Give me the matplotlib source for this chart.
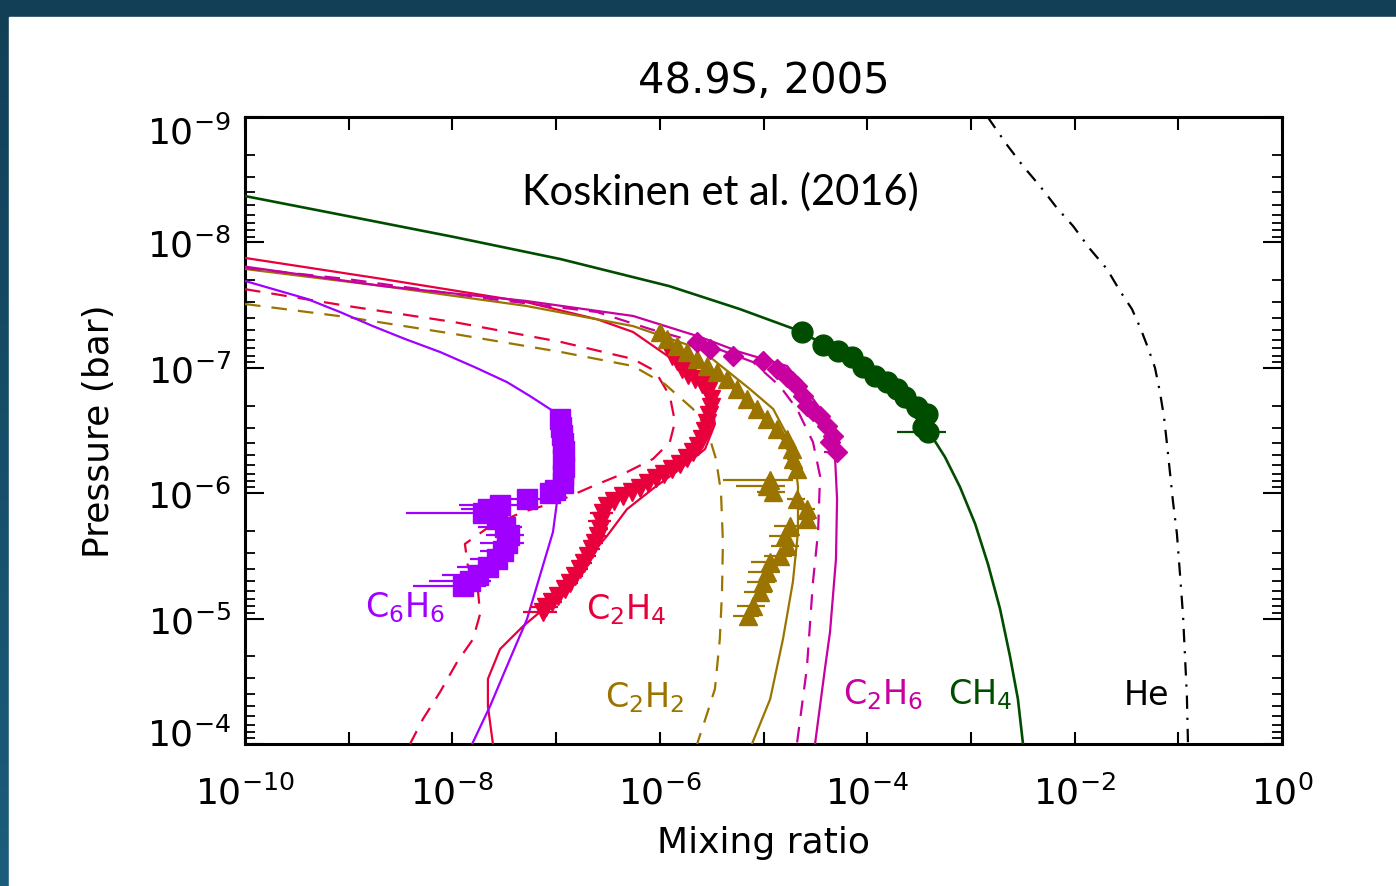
import numpy as np
import matplotlib
matplotlib.use("Agg")
import matplotlib.pyplot as plt
import matplotlib.transforms as mtransforms
from matplotlib.ticker import FixedLocator, FuncFormatter, NullFormatter
from matplotlib.patches import Rectangle

# ---------------- data ----------------
# models (mixing ratio, pressure in bar)
ch4_x = [1e-10, 9.6e-10, 1.04e-8, 1.11e-7, 1.23e-6, 5.9e-6, 1.97e-5, 6.8e-5, 1.66e-4, 4.0e-4,
         5.62e-4, 7.85e-4, 1.10e-3, 1.46e-3, 1.91e-3, 2.38e-3, 2.84e-3, 3.18e-3]
ch4_p = [4.27e-9, 6.15e-9, 9.06e-9, 1.36e-8, 2.23e-8, 3.4e-8, 4.9e-8, 8.2e-8, 1.48e-7, 3.3e-7,
         5.14e-7, 8.93e-7, 1.76e-6, 3.67e-6, 8.37e-6, 1.99e-5, 4.38e-5, 1e-4]

he_x = [1.45e-3, 2.23e-3, 3.18e-3, 4.63e-3, 6.76e-3, 9.66e-3, 1.41e-2, 2.05e-2, 2.74e-2, 3.57e-2,
        4.3e-2, 5.11e-2, 5.96e-2, 6.65e-2, 7.28e-2, 7.8e-2, 8.32e-2, 8.89e-2, 9.70e-2, 0.104,
        0.111, 0.116, 0.121, 0.124]
he_p = [1e-9, 1.67e-9, 2.46e-9, 3.55e-9, 5.32e-9, 7.40e-9, 1.13e-8, 1.63e-8, 2.44e-8, 3.40e-8,
        4.8e-8, 6.95e-8, 1.0e-7, 1.56e-7, 2.47e-7, 4.13e-7, 6.90e-7, 1.17e-6, 2.11e-6, 4.5e-6,
        9.35e-6, 1.99e-5, 4.14e-5, 1e-4]

c2h4_mod_x = [1e-10, 2.14e-9, 5.13e-8, 2.48e-7, 5.52e-7, 1.23e-6, 2.18e-6, 3.18e-6, 3.40e-6, 2.73e-6,
              1.57e-6, 9.0e-7, 4.83e-7, 3.10e-7, 1.46e-7, 7.0e-8, 4.8e-8, 2.88e-8, 2.20e-8, 2.20e-8, 2.46e-8]
c2h4_mod_p = [1.33e-8, 1.96e-8, 2.99e-8, 4.1e-8, 5.18e-8, 8.2e-8, 1.23e-7, 1.95e-7, 2.81e-7, 4.45e-7,
              6.41e-7, 8.93e-7, 1.34e-6, 2.19e-6, 4.57e-6, 8.85e-6, 1.15e-5, 1.75e-5, 3.03e-5, 4.98e-5, 1e-4]

c2h4_dash_x = [1e-10, 9.6e-10, 1.04e-8, 1.11e-7, 5.52e-7, 9.0e-7, 1.25e-6, 1.40e-6, 1.25e-6, 8.6e-7,
               4.83e-7, 2.27e-7, 1.02e-7, 4.8e-8, 2.31e-8, 1.32e-8, 1.41e-8, 1.77e-8, 1.85e-8, 1.58e-8,
               1.11e-8, 7.6e-9, 5.2e-9, 3.9e-9]
c2h4_dash_p = [2.36e-8, 3.21e-8, 4.32e-8, 6.22e-8, 8.51e-8, 1.06e-7, 1.68e-7, 2.70e-7, 3.91e-7, 5.33e-7,
               6.78e-7, 8.77e-7, 1.17e-6, 1.41e-6, 1.83e-6, 2.54e-6, 3.81e-6, 6.14e-6, 9.18e-6, 1.46e-5,
               2.22e-5, 3.85e-5, 6.32e-5, 1e-4]

c2h2_mod_x = [1e-10, 2.14e-9, 5.13e-8, 5.52e-7, 2.44e-6, 7.41e-6, 1.24e-5, 1.92e-5, 2.15e-5, 2.15e-5,
              1.92e-5, 1.54e-5, 1.16e-5, 7.74e-6]
c2h2_mod_p = [1.63e-8, 2.23e-8, 3.21e-8, 4.65e-8, 7.08e-8, 1.48e-7, 2.13e-7, 4.21e-7, 8.77e-7, 2.04e-6,
              5.10e-6, 1.46e-5, 4.38e-5, 1e-4]

c2h2_dash_x = [1e-10, 9.6e-10, 1.04e-8, 1.11e-7, 5.52e-7, 1.12e-6, 2.09e-6, 2.85e-6, 3.48e-6, 3.89e-6,
               4.06e-6, 3.98e-6, 3.79e-6, 3.40e-6, 2.85e-6, 2.29e-6]
c2h2_dash_p = [3.1e-8, 3.94e-8, 5.37e-8, 7.48e-8, 9.68e-8, 1.35e-7, 2.13e-7, 3.08e-7, 5.33e-7, 9.77e-7,
               2.45e-6, 6.14e-6, 1.46e-5, 3.64e-5, 5.77e-5, 1e-4]

c2h6_mod_x = [1e-10, 2.14e-9, 5.13e-8, 5.52e-7, 2.44e-6, 5.9e-6, 1.69e-5, 3.0e-5, 4.68e-5, 4.89e-5,
              5.12e-5, 5.0e-5, 4.38e-5, 3.92e-5, 3.14e-5]
c2h6_mod_p = [1.56e-8, 2.23e-8, 2.93e-8, 3.86e-8, 5.67e-8, 7.48e-8, 9.68e-8, 1.77e-7, 2.91e-7, 5.05e-7,
              1.11e-6, 3.35e-6, 1.28e-5, 2.48e-5, 1e-4]

c2h6_dash_x = [1e-10, 9.6e-10, 2.31e-8, 2.48e-7, 8.0e-7, 3.05e-6, 7.92e-6, 1.44e-5, 2.10e-5, 3.0e-5,
               3.51e-5, 3.36e-5, 3.0e-5, 2.62e-5, 2.10e-5]
c2h6_dash_p = [1.60e-8, 1.96e-8, 2.82e-8, 3.59e-8, 4.9e-8, 6.70e-8, 9.0e-8, 1.40e-7, 2.13e-7, 3.91e-7,
               7.29e-7, 2.04e-6, 5.10e-6, 2.48e-5, 1e-4]

c6h6_mod_x = [1e-10, 3.96e-10, 8.24e-10, 1.71e-9, 3.49e-9, 7.6e-9, 1.65e-8, 3.36e-8, 5.6e-8, 9.33e-8,
              1.09e-7, 1.14e-7, 1.02e-7, 9.33e-8, 8.17e-8, 5.24e-8, 3.36e-8, 2.31e-8, 1.55e-8]
c6h6_mod_p = [2.03e-8, 2.82e-8, 3.59e-8, 4.65e-8, 5.89e-8, 7.48e-8, 9.9e-8, 1.30e-7, 1.68e-7, 2.21e-7,
              4.45e-7, 9.27e-7, 1.17e-6, 2.04e-6, 2.94e-6, 1.01e-5, 2.39e-5, 4.98e-5, 1e-4]

# observations
ch4_obs_x = [2.35e-5, 3.75e-5, 5.2e-5, 7.1e-5, 9.1e-5, 1.19e-4, 1.55e-4, 1.94e-4, 2.32e-4, 3.0e-4,
             3.78e-4, 3.45e-4, 3.86e-4]
ch4_obs_p = [5.2e-8, 6.6e-8, 7.3e-8, 8.2e-8, 9.9e-8, 1.16e-7, 1.30e-7, 1.48e-7, 1.71e-7, 2.06e-7,
             2.33e-7, 2.96e-7, 3.25e-7]
ch4_obs_rel = [0.05, 0.05, 0.05, 0.05, 0.05, 0.05, 0.05, 0.05, 0.05, 0.05, 0.08, 0.2, 0.5]

c2h6_obs_x = [2.29e-6, 3.05e-6, 5.08e-6, 9.89e-6, 1.35e-5, 1.69e-5, 1.88e-5, 2.10e-5, 2.41e-5, 2.62e-5,
              3.0e-5, 3.51e-5, 4.09e-5, 4.68e-5, 4.38e-5, 5.12e-5]
c2h6_obs_p = [6.22e-8, 7.08e-8, 8.05e-8, 8.83e-8, 1.02e-7, 1.18e-7, 1.27e-7, 1.40e-7, 1.68e-7, 2.02e-7,
              2.21e-7, 2.42e-7, 2.91e-7, 3.50e-7, 3.91e-7, 4.69e-7]
c2h6_obs_rel = [0.1, 0.1, 0.1, 0.1, 0.1, 0.1, 0.1, 0.1, 0.1, 0.1, 0.1, 0.1, 0.12, 0.12, 0.15, 0.25]

c2h2_obs_x = [1.00e-6, 1.17e-6, 1.47e-6, 1.83e-6, 2.29e-6, 2.85e-6, 3.57e-6, 4.45e-6, 5.55e-6, 6.93e-6,
              8.65e-6, 1.08e-5, 1.35e-5, 1.69e-5, 1.88e-5, 1.92e-5, 2.10e-5, 1.16e-5, 1.08e-5, 1.24e-5,
              2.10e-5, 2.62e-5, 2.62e-5, 1.80e-5, 1.61e-5, 1.69e-5, 1.44e-5, 1.16e-5, 1.08e-5, 9.89e-6,
              9.25e-6, 7.92e-6, 7.09e-6]
c2h2_obs_p = [5.18e-8, 5.89e-8, 6.70e-8, 7.48e-8, 8.51e-8, 9.68e-8, 1.08e-7, 1.23e-7, 1.48e-7, 1.77e-7,
              2.13e-7, 2.56e-7, 3.08e-7, 3.70e-7, 4.45e-7, 5.33e-7, 6.41e-7, 7.85e-7, 8.77e-7, 9.77e-7,
              1.11e-6, 1.34e-6, 1.61e-6, 1.83e-6, 2.19e-6, 2.64e-6, 3.17e-6, 3.54e-6, 4.25e-6, 5.10e-6,
              6.14e-6, 7.94e-6, 9.53e-6]
c2h2_obs_rel = [0.1, 0.1, 0.1, 0.1, 0.1, 0.1, 0.1, 0.1, 0.1, 0.1,
                0.1, 0.1, 0.1, 0.12, 0.12, 0.12, 0.15, 0.65, 0.5, 0.3,
                0.2, 0.2, 0.2, 0.3, 0.3, 0.3, 0.3, 0.35, 0.35, 0.3,
                0.3, 0.3, 0.28]

c2h4_obs_x = [1.31e-6, 1.47e-6, 1.64e-6, 1.87e-6, 2.18e-6, 2.55e-6, 2.92e-6, 3.12e-6, 3.12e-6, 2.98e-6,
              2.85e-6, 2.73e-6, 2.55e-6, 2.33e-6, 2.09e-6, 1.83e-6, 1.57e-6, 1.31e-6, 1.10e-6, 9.18e-7,
              7.69e-7, 6.44e-7, 5.40e-7, 4.42e-7, 3.61e-7, 3.10e-7, 2.83e-7, 2.71e-7, 2.65e-7, 2.54e-7,
              2.37e-7, 2.22e-7, 2.03e-7, 1.86e-7, 1.70e-7, 1.52e-7, 1.36e-7, 1.22e-7, 1.04e-7, 9.12e-8,
              8.0e-8, 7.48e-8]
c2h4_obs_p = [8.05e-8, 8.83e-8, 1.02e-7, 1.14e-7, 1.23e-7, 1.35e-7, 1.53e-7, 1.77e-7, 2.06e-7, 2.38e-7,
              2.75e-7, 3.19e-7, 3.70e-7, 4.21e-7, 4.69e-7, 5.24e-7, 5.85e-7, 6.41e-7, 7.03e-7, 7.57e-7,
              8.30e-7, 9.10e-7, 9.77e-7, 1.05e-6, 1.15e-6, 1.26e-6, 1.44e-6, 1.67e-6, 1.93e-6, 2.19e-6,
              2.49e-6, 2.79e-6, 3.17e-6, 3.61e-6, 4.02e-6, 4.57e-6, 5.20e-6, 5.81e-6, 6.61e-6, 7.38e-6,
              8.07e-6, 8.85e-6]
c2h4_obs_rel = [0.08] * 24 + [0.15, 0.2, 0.25, 0.25, 0.2, 0.2, 0.2, 0.2, 0.2, 0.2,
                              0.2, 0.2, 0.2, 0.2, 0.2, 0.25, 0.3, 0.36]

c6h6_obs_x = [1.09e-7, 1.12e-7, 1.14e-7, 1.17e-7, 1.19e-7, 1.17e-7, 1.19e-7, 1.17e-7, 1.17e-7, 9.75e-8,
              8.73e-8, 5.24e-8, 2.88e-8, 2.20e-8, 1.97e-8, 2.69e-8, 3.21e-8, 3.51e-8, 3.36e-8, 3.08e-8,
              2.69e-8, 2.20e-8, 1.77e-8, 1.48e-8, 1.26e-8]
c6h6_obs_p = [2.56e-7, 2.96e-7, 3.44e-7, 3.98e-7, 4.61e-7, 5.33e-7, 6.18e-7, 7.16e-7, 8.30e-7, 9.42e-7,
              9.96e-7, 1.11e-6, 1.24e-6, 1.34e-6, 1.44e-6, 1.61e-6, 1.86e-6, 2.15e-6, 2.49e-6, 2.89e-6,
              3.35e-6, 3.88e-6, 4.49e-6, 5.01e-6, 5.50e-6]
c6h6_obs_rel = [0.12] * 9 + [0.15, 0.2, 0.35, 0.6, 0.45, 0.82, 0.4, 0.45, 0.4, 0.45, 0.4,
                             0.45, 0.5, 0.55, 0.6, 0.67]

# species labels: (text, mixing ratio, pressure)
species_labels = [
    (r'C$_6$H$_6$', 3.5e-9, 8.1e-6),
    (r'C$_2$H$_4$', 4.7e-7, 8.3e-6),
    (r'C$_2$H$_2$', 7.2e-7, 4.2e-5),
    (r'C$_2$H$_6$', 1.42e-4, 4.0e-5),
    (r'CH$_4$', 1.22e-3, 4.0e-5),
    ('He', 4.9e-2, 4.0e-5),
]

# ---------------- style ----------------
plt.rcParams['font.family'] = ['DejaVu Sans']
plt.rcParams['mathtext.default'] = 'regular'

C_PURPLE = '#a000ff'
C_RED = '#e8003c'
C_GOLD = '#9b7400'
C_MAG = '#c800a0'
C_GREEN = '#004d00'
label_colors = [C_PURPLE, C_RED, C_GOLD, C_MAG, C_GREEN, 'black']

fig = plt.figure(figsize=(13.96, 8.87), dpi=100)

# background frame
bg = fig.add_axes([0, 0, 1, 1], zorder=-10)
grad = np.linspace(0, 1, 256).reshape(-1, 1)
bg.imshow(grad, aspect='auto', cmap=matplotlib.colors.LinearSegmentedColormap.from_list(
    'frame', ['#123f56', '#1b5d7b']), extent=[0, 1, 0, 1], origin='upper')
bg.add_patch(Rectangle((9 / 1396, 0), 1, (887 - 18) / 887, color='white', transform=bg.transAxes))
bg.set_xlim(0, 1)
bg.set_ylim(0, 1)
bg.axis('off')

ax = fig.add_axes([245 / 1396, 1 - 745 / 887, (1282 - 245) / 1396, (745 - 118) / 887])
ax.set_xscale('log')
ax.set_yscale('log')
ax.set_xlim(1e-10, 1)
ax.set_ylim(1e-4, 1e-9)

lw = 1.6
dash = (0, (7, 5))
# models
ax.plot(ch4_x, ch4_p, color=C_GREEN, lw=1.9, zorder=3)
ax.plot(he_x, he_p, color='black', lw=1.6, linestyle=(0, (6, 4, 1, 4)), zorder=3)
ax.plot(c2h4_mod_x, c2h4_mod_p, color=C_RED, lw=lw, zorder=3)
ax.plot(c2h4_dash_x, c2h4_dash_p, color=C_RED, lw=lw, linestyle=dash, zorder=3)
ax.plot(c2h2_mod_x, c2h2_mod_p, color=C_GOLD, lw=lw, zorder=3)
ax.plot(c2h2_dash_x, c2h2_dash_p, color=C_GOLD, lw=lw, linestyle=dash, zorder=3)
ax.plot(c2h6_mod_x, c2h6_mod_p, color=C_MAG, lw=lw, zorder=3)
ax.plot(c2h6_dash_x, c2h6_dash_p, color=C_MAG, lw=lw, linestyle=dash, zorder=3)
ax.plot(c6h6_mod_x, c6h6_mod_p, color=C_PURPLE, lw=lw, zorder=3)


def obs(xs, ps, rel, color, marker, ms):
    xs = np.asarray(xs)
    err = xs * np.asarray(rel)
    ax.errorbar(xs, ps, xerr=err, fmt='none', ecolor=color, elinewidth=1.6, capsize=0, zorder=4)
    ax.plot(xs, ps, linestyle='none', marker=marker, ms=ms, color=color, mec=color, zorder=5)


obs(c6h6_obs_x, c6h6_obs_p, c6h6_obs_rel, C_PURPLE, 's', 14)
obs(c2h4_obs_x, c2h4_obs_p, c2h4_obs_rel, C_RED, 'v', 13.5)
obs(c2h2_obs_x, c2h2_obs_p, c2h2_obs_rel, C_GOLD, '^', 13.5)
obs(c2h6_obs_x, c2h6_obs_p, c2h6_obs_rel, C_MAG, 'D', 10)
obs(ch4_obs_x, ch4_obs_p, ch4_obs_rel, C_GREEN, 'o', 15)

# ticks
xmaj = [10.0 ** e for e in range(-10, 1)]
ax.xaxis.set_major_locator(FixedLocator(xmaj))
ax.xaxis.set_minor_locator(FixedLocator([]))


def xfmt(v, pos):
    e = int(round(np.log10(v)))
    return r'$10^{%d}$' % e if e % 2 == 0 else ''


ax.xaxis.set_major_formatter(FuncFormatter(xfmt))
ymaj = [10.0 ** e for e in range(-9, -3)]
ymin = [m * 10.0 ** e for e in range(-9, -4) for m in range(2, 10)]
ax.yaxis.set_major_locator(FixedLocator(ymaj))
ax.yaxis.set_minor_locator(FixedLocator(ymin))
ax.yaxis.set_minor_formatter(NullFormatter())
ax.yaxis.set_major_formatter(FuncFormatter(lambda v, p: r'$10^{%d}$' % int(round(np.log10(v)))))

ax.tick_params(axis='both', which='both', direction='in', top=True, right=True, colors='black',
               labelsize=26)
ax.tick_params(axis='x', which='major', length=9, width=1.5, pad=22)
ax.tick_params(axis='y', which='major', length=14, width=1.5, pad=10)
ax.tick_params(axis='y', which='minor', length=7, width=1.3)
for s in ax.spines.values():
    s.set_linewidth(2.2)

ax.set_xlabel('Mixing ratio', fontsize=26, labelpad=10)
ax.set_ylabel('Pressure (bar)', fontsize=26, labelpad=22)
ax.set_title('48.9S, 2005', fontsize=30, pad=18)

ax.text(0.458, 0.882, 'Koskinen et al. (2016)', transform=ax.transAxes, ha='center', va='center',
        fontsize=30, family=['Lato', 'DejaVu Sans'])

for (txt, lx, lp), col in zip(species_labels, label_colors):
    ax.text(lx, lp, txt, color=col, fontsize=24, ha='center', va='center')

# keep the end labels of the y axis inside the frame (as in the original)
fig.canvas.draw()
yticks = ax.yaxis.get_major_ticks()
shift_down = mtransforms.ScaledTranslation(0, -12 / 100, fig.dpi_scale_trans)
shift_up = mtransforms.ScaledTranslation(0, 13 / 100, fig.dpi_scale_trans)
for t in yticks:
    v = t.get_loc()
    if abs(np.log10(v) + 9) < 0.01:
        t.label1.set_transform(t.label1.get_transform() + shift_down)
    elif abs(np.log10(v) + 4) < 0.01:
        t.label1.set_transform(t.label1.get_transform() + shift_up)

fig.savefig('out.png', dpi=100)
